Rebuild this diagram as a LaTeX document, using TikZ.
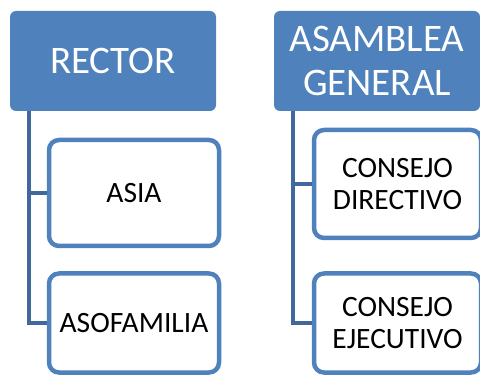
\documentclass[tikz,border=0pt]{standalone}
\usepackage{fontspec}
\setmainfont{Carlito}
\usepackage{tikz}

\definecolor{boxblue}{RGB}{79,129,189}
\definecolor{linkblue}{RGB}{64,104,156}

\begin{document}
\begin{tikzpicture}[x=1pt,y=-1pt]

\tikzstyle{headbox}=[fill=boxblue,draw=none,rounded corners=6pt,text=white,
  align=center,inner sep=0pt,font=\fontsize{39}{44}\selectfont]
\tikzstyle{unitbox}=[draw=boxblue,line width=4.5pt,fill=white,rounded corners=10pt,
  text=black,align=center,inner sep=0pt,font=\fontsize{29.5}{32}\selectfont]
\tikzstyle{link}=[draw=linkblue,line width=4.5pt]

\clip (0,0) rectangle (480,377);

%% Left branch
\node [headbox,minimum width=206pt,minimum height=100pt] (rector) at (113,61) {RECTOR};
\node [unitbox,minimum width=170pt,minimum height=106pt] (asia) at (134,193) {ASIA};
\node [unitbox,minimum width=170pt,minimum height=99pt] (asofamilia) at (134,323) {ASOFAMILIA};

%% Right branch
\node [headbox,minimum width=206pt,minimum height=100pt] (asamblea) at (377,61) {ASAMBLEA\\GENERAL};
\node [unitbox,minimum width=167pt,minimum height=108pt] (directivo) at (397.5,184) {CONSEJO\\DIRECTIVO};
\node [unitbox,minimum width=167pt,minimum height=99pt] (ejecutivo) at (397.5,323) {CONSEJO\\EJECUTIVO};

%% Connectors
\coordinate (rtrunk) at ([xshift=19pt]rector.south west);
\coordinate (atrunk) at ([xshift=19pt]asamblea.south west);
\draw [link] (rtrunk) |- (asia.west);
\draw [link] (rtrunk) |- (asofamilia.west);
\draw [link] (atrunk) |- (directivo.west);
\draw [link] (atrunk) |- (ejecutivo.west);
\end{tikzpicture}
\end{document}
